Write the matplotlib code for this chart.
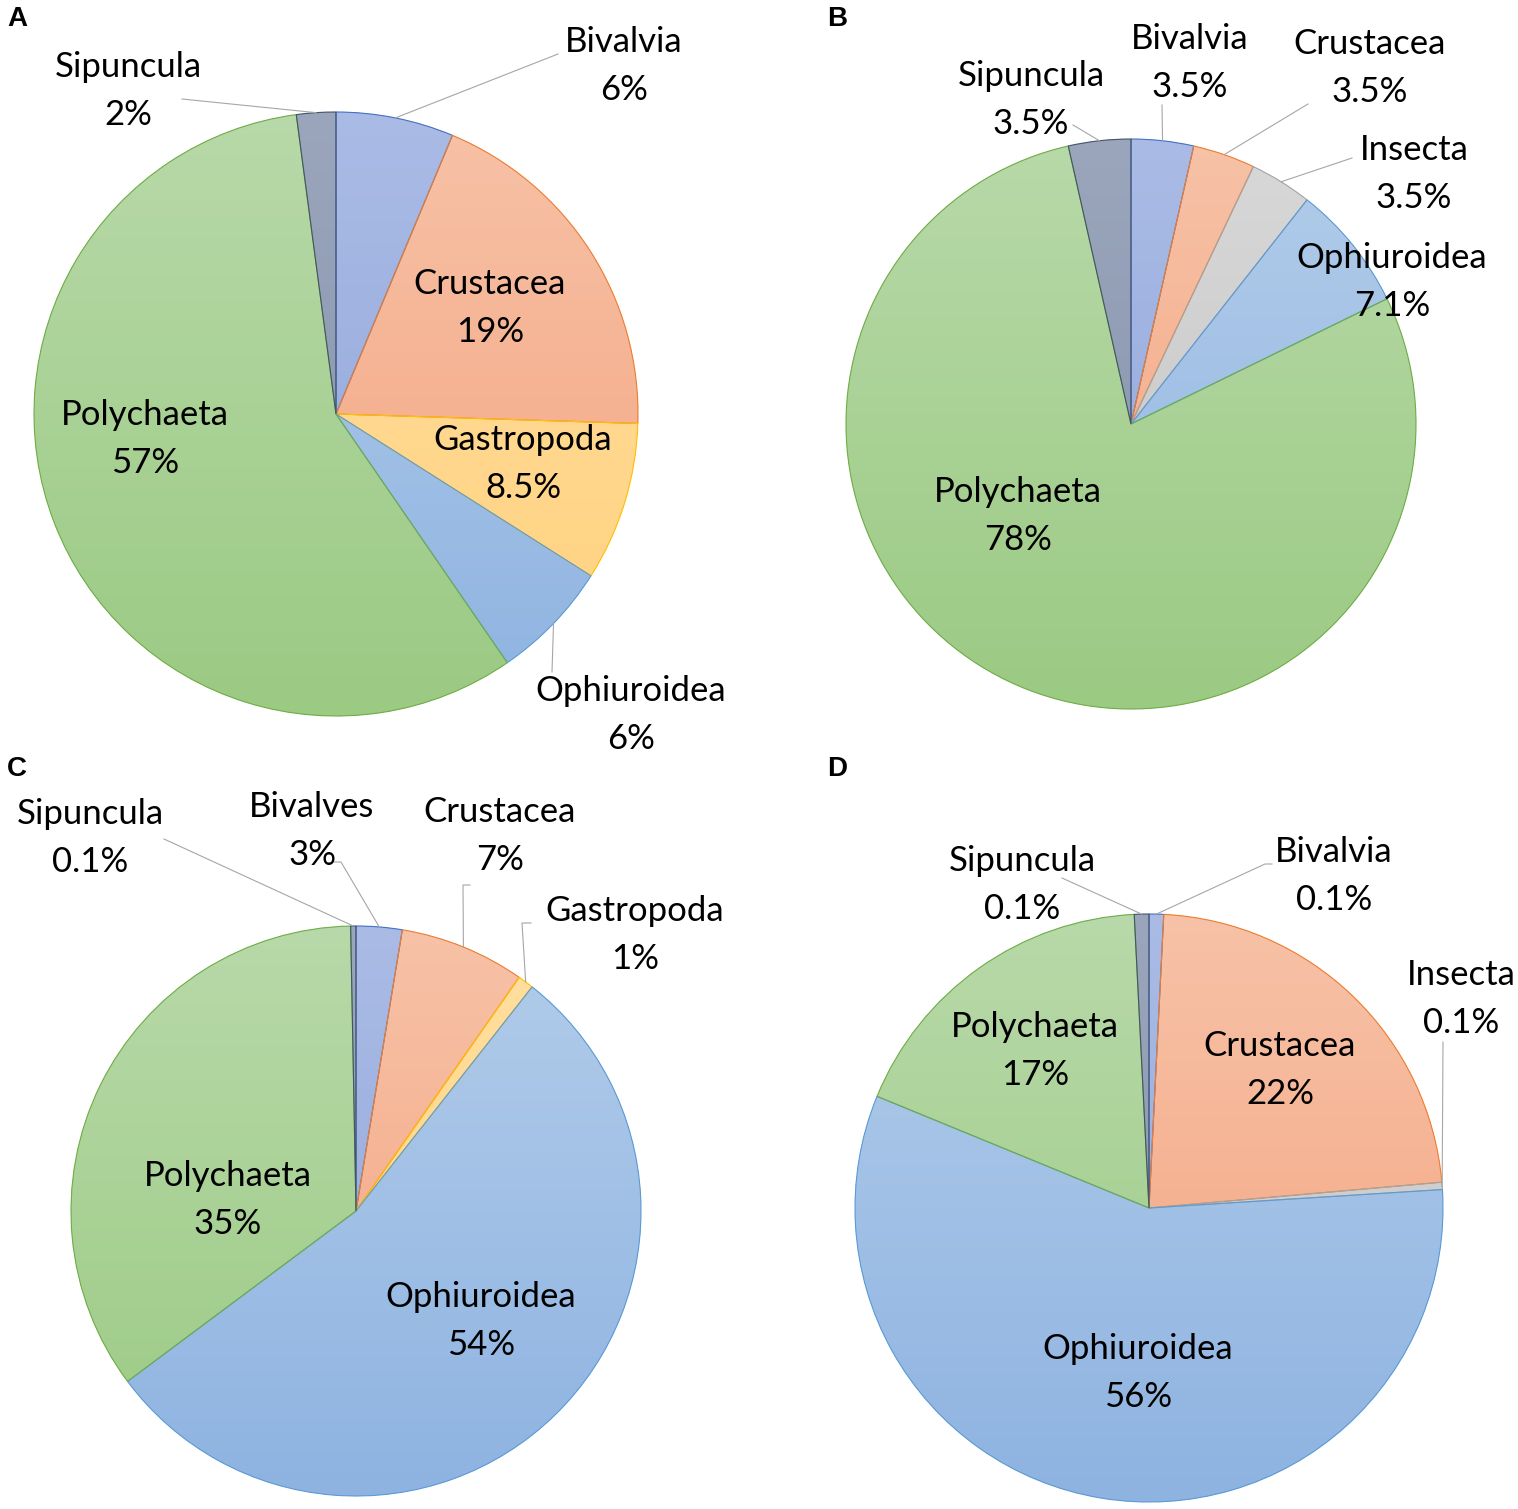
import numpy as np
import matplotlib.pyplot as plt
from matplotlib.colors import LinearSegmentedColormap

W, H = 1518, 1509

# gradient top, gradient bottom, outline
colours = {
    'Sipuncula':   ('#9ba6bc', '#8391ab', '#44546a'),
    'Bivalvia':    ('#aabbe5', '#8ea5da', '#4472c4'),
    'Bivalves':    ('#aabbe5', '#8ea5da', '#4472c4'),
    'Crustacea':   ('#f7c2a7', '#f4a27c', '#ed7d31'),
    'Gastropoda':  ('#ffdfa0', '#ffd17e', '#ffc000'),
    'Ophiuroidea': ('#b3cdea', '#8eb3e1', '#5b9bd5'),
    'Polychaeta':  ('#b8d9a9', '#9bca83', '#70ad47'),
    'Insecta':     ('#d8d8d8', '#c3c3c3', '#a5a5a5'),
}

a_names = ['Bivalvia', 'Crustacea', 'Gastropoda', 'Ophiuroidea', 'Polychaeta', 'Sipuncula']
a_vals = [6.3, 19.2, 8.5, 6.4, 57.5, 2.1]
a_pct = ['6%', '19%', '8.5%', '6%', '57%', '2%']

b_names = ['Bivalvia', 'Crustacea', 'Insecta', 'Ophiuroidea', 'Polychaeta', 'Sipuncula']
b_vals = [3.5, 3.5, 3.5, 7.1, 78, 3.5]
b_pct = ['3.5%', '3.5%', '3.5%', '7.1%', '78%', '3.5%']

c_names = ['Bivalves', 'Crustacea', 'Gastropoda', 'Ophiuroidea', 'Polychaeta', 'Sipuncula']
c_vals = [2.6, 7.1, 0.9, 54.2, 34.9, 0.3]
c_pct = ['3%', '7%', '1%', '54%', '35%', '0.1%']

d_names = ['Bivalvia', 'Crustacea', 'Insecta', 'Ophiuroidea', 'Polychaeta', 'Sipuncula']
d_vals = [0.8, 22.8, 0.4, 57.2, 18.0, 0.8]
d_pct = ['0.1%', '22%', '0.1%', '56%', '17%', '0.1%']

# layout in pixels (y from top): centre, radius, letter, label centres, leader starts
panels = [
    dict(letter='A', lpos=(17, 19), c=(336, 414), r=302,
         names=a_names, vals=a_vals, pct=a_pct,
         labels={'Bivalvia': (624, 63), 'Crustacea': (490, 305), 'Gastropoda': (523, 461),
                 'Ophiuroidea': (631, 712), 'Polychaeta': (145, 436), 'Sipuncula': (128, 88)},
         leaders={'Sipuncula': [(182, 99)], 'Bivalvia': [(558, 54)],
                  'Ophiuroidea': [(552, 672)]}),
    dict(letter='B', lpos=(837, 19), c=(1131, 424), r=285,
         names=b_names, vals=b_vals, pct=b_pct,
         labels={'Bivalvia': (1190, 60), 'Crustacea': (1370, 65), 'Insecta': (1414, 171),
                 'Ophiuroidea': (1392, 279), 'Polychaeta': (1018, 513), 'Sipuncula': (1031, 97)},
         leaders={'Sipuncula': [(1073, 125)], 'Bivalvia': [(1162, 105)],
                  'Crustacea': [(1308, 104)], 'Insecta': [(1352, 158)]}),
    dict(letter='C', lpos=(17, 769), c=(356, 1211), r=285,
         names=c_names, vals=c_vals, pct=c_pct,
         labels={'Bivalves': (312, 828), 'Crustacea': (500, 833), 'Gastropoda': (635, 932),
                 'Ophiuroidea': (481, 1318), 'Polychaeta': (228, 1197), 'Sipuncula': (90, 835)},
         leaders={'Sipuncula': [(164, 839)], 'Bivalves': [(334, 862), (341, 862)],
                  'Crustacea': [(470, 885), (463, 885)],
                  'Gastropoda': [(531, 923), (522, 923)]}),
    dict(letter='D', lpos=(837, 769), c=(1149, 1208), r=294,
         names=d_names, vals=d_vals, pct=d_pct,
         labels={'Bivalvia': (1334, 873), 'Crustacea': (1280, 1067), 'Insecta': (1461, 996),
                 'Ophiuroidea': (1138, 1370), 'Polychaeta': (1035, 1048), 'Sipuncula': (1022, 882)},
         leaders={'Sipuncula': [(1062, 878)], 'Bivalvia': [(1272, 864), (1265, 864)],
                  'Insecta': [(1443, 1042)]}),
]

fig = plt.figure(figsize=(W / 100, H / 100), dpi=100)
ax = fig.add_axes([0, 0, 1, 1])

grad = np.linspace(0, 1, 256).reshape(-1, 1)

for p in panels:
    cx, cy = p['c'][0], H - p['c'][1]
    r = p['r']
    cols = [colours[n] for n in p['names']]
    wedges, _ = ax.pie(p['vals'], center=(cx, cy), radius=r, startangle=90,
                       counterclock=False, colors=[c[1] for c in cols],
                       wedgeprops=dict(linewidth=0))
    for w, c in zip(wedges, cols):
        cmap = LinearSegmentedColormap.from_list('g', [c[0], c[1]])
        im = ax.imshow(grad, cmap=cmap, extent=(cx - r, cx + r, cy - r, cy + r),
                       origin='upper', aspect='auto', interpolation='bilinear', zorder=2)
        im.set_clip_path(w)
    outl, _ = ax.pie(p['vals'], center=(cx, cy), radius=r, startangle=90,
                     counterclock=False,
                     wedgeprops=dict(fill=False, linewidth=0.8))
    for w, c in zip(outl, cols):
        w.set_edgecolor(c[2])
        w.set_zorder(3)

    for name, pct, w in zip(p['names'], p['pct'], wedges):
        x, y = p['labels'][name]
        ax.text(x, H - y - 3, name + '\n' + pct, ha='center', va='center',
                fontsize=25, family='Lato', linespacing=1.6, zorder=5)
        if name in p['leaders']:
            mid = np.deg2rad((w.theta1 + w.theta2) / 2)
            pts = [(px, H - py) for px, py in p['leaders'][name]]
            pts.append((cx + r * np.cos(mid), cy + r * np.sin(mid)))
            ax.plot([q[0] for q in pts], [q[1] for q in pts], color='#a6a6a6',
                    linewidth=0.8, zorder=4)

    ax.text(p['lpos'][0], H - p['lpos'][1], p['letter'], ha='center', va='center',
            fontsize=20, fontweight='bold', family='Liberation Sans')

ax.set_xlim(0, W)
ax.set_ylim(0, H)
ax.set_aspect('equal')
ax.axis('off')

fig.savefig('out.png', dpi=100)
